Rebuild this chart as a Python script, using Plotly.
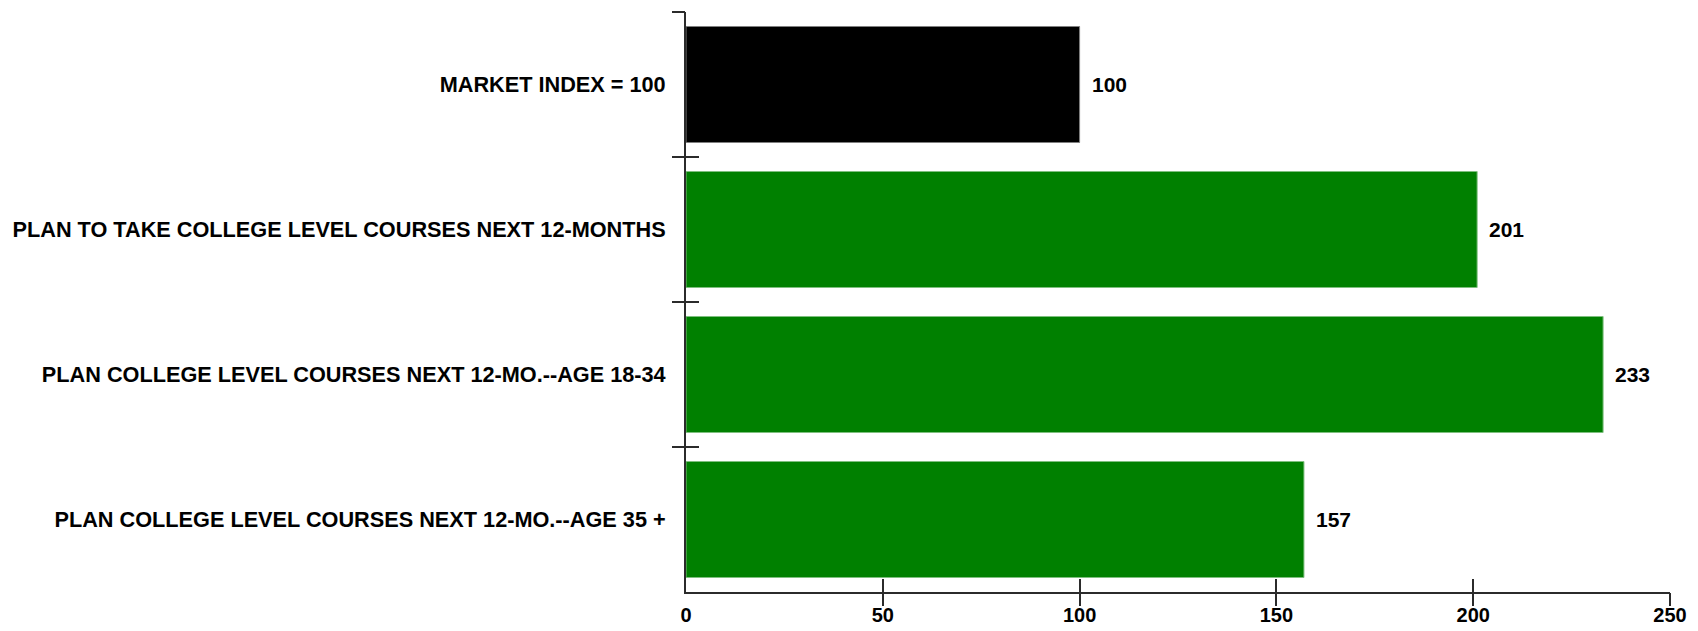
import plotly.graph_objects as go

# Index values by segment (market = 100)
categories = [
    "MARKET INDEX = 100",
    "PLAN TO TAKE COLLEGE LEVEL COURSES NEXT 12-MONTHS",
    "PLAN COLLEGE LEVEL COURSES NEXT 12-MO.--AGE 18-34",
    "PLAN COLLEGE LEVEL COURSES NEXT 12-MO.--AGE 35 +",
]
values = [100, 201, 233, 157]
bar_colors = ["#000000", "#008000", "#008000", "#008000"]
edge_colors = ["#7f7f7f", "#7fbf7f", "#7fbf7f", "#7fbf7f"]
x_tick_values = [0, 50, 100, 150, 200, 250]

FONT = "Liberation Sans, Arial, sans-serif"
AXIS_COLOR = "#2b2b2b"
positions = list(range(len(categories)))
boundaries = [p - 0.5 for p in positions]
x_range = [0, 250]
y_range = [len(categories) - 0.5, -0.5]

fig = go.Figure()

fig.add_trace(go.Bar(
    x=values,
    y=positions,
    orientation="h",
    width=0.8,
    marker=dict(color=bar_colors, line=dict(color=edge_colors, width=1)),
    hoverinfo="x+y",
    showlegend=False,
))

# helper traces so the overlay axes (cross-style ticks) are drawn
for xa, ya in (("x2", "y2"), ("x3", "y3")):
    fig.add_trace(go.Scatter(
        x=[0], y=[0], xaxis=xa, yaxis=ya, mode="markers",
        marker=dict(opacity=0), hoverinfo="skip", showlegend=False,
    ))

# value labels at the end of each bar
for v, p in zip(values, positions):
    fig.add_annotation(
        x=v, y=p, text=str(v), showarrow=False,
        xanchor="left", yanchor="middle", xshift=10,
        font=dict(family=FONT, size=21, color="#000000", weight=700),
    )

tick_font = dict(family=FONT, size=20, color="#000000", weight=700)
cat_font = dict(family=FONT, size=21.7, color="#000000", weight=700)
major_x = [t for t in x_tick_values if t > 0]

fig.update_layout(
    width=1698,
    height=631,
    margin=dict(l=686, r=28, t=12, b=39),
    plot_bgcolor="#ffffff",
    paper_bgcolor="#ffffff",
    bargap=0.2,
    xaxis=dict(
        range=x_range, tickvals=x_tick_values, ticks="",
        showgrid=False, zeroline=False, automargin=False,
        showline=True, linecolor=AXIS_COLOR, linewidth=2,
        tickfont=tick_font, ticklabelstandoff=4,
    ),
    yaxis=dict(
        range=y_range, tickvals=positions, ticktext=categories, ticks="",
        showgrid=False, zeroline=False, automargin=False,
        showline=True, linecolor=AXIS_COLOR, linewidth=2,
        tickfont=cat_font, ticklabelstandoff=14,
    ),
    xaxis2=dict(
        overlaying="x", anchor="y2", side="bottom", range=x_range,
        tickvals=major_x, ticks="outside", ticklen=13, tickwidth=2,
        tickcolor=AXIS_COLOR, showticklabels=False, automargin=False,
        showgrid=False, zeroline=False, showline=False,
    ),
    yaxis2=dict(
        overlaying="y", anchor="x2", side="left", range=y_range,
        tickvals=boundaries, ticks="outside", ticklen=13, tickwidth=2,
        tickcolor=AXIS_COLOR, showticklabels=False, automargin=False,
        showgrid=False, zeroline=False, showline=False,
    ),
    xaxis3=dict(
        overlaying="x", anchor="y3", side="bottom", range=x_range,
        tickvals=major_x, ticks="inside", ticklen=13, tickwidth=2,
        tickcolor=AXIS_COLOR, showticklabels=False, automargin=False,
        showgrid=False, zeroline=False, showline=False,
    ),
    yaxis3=dict(
        overlaying="y", anchor="x3", side="left", range=y_range,
        tickvals=boundaries, ticks="inside", ticklen=13, tickwidth=2,
        tickcolor=AXIS_COLOR, showticklabels=False, automargin=False,
        showgrid=False, zeroline=False, showline=False,
    ),
)

fig.write_html("out.html")
